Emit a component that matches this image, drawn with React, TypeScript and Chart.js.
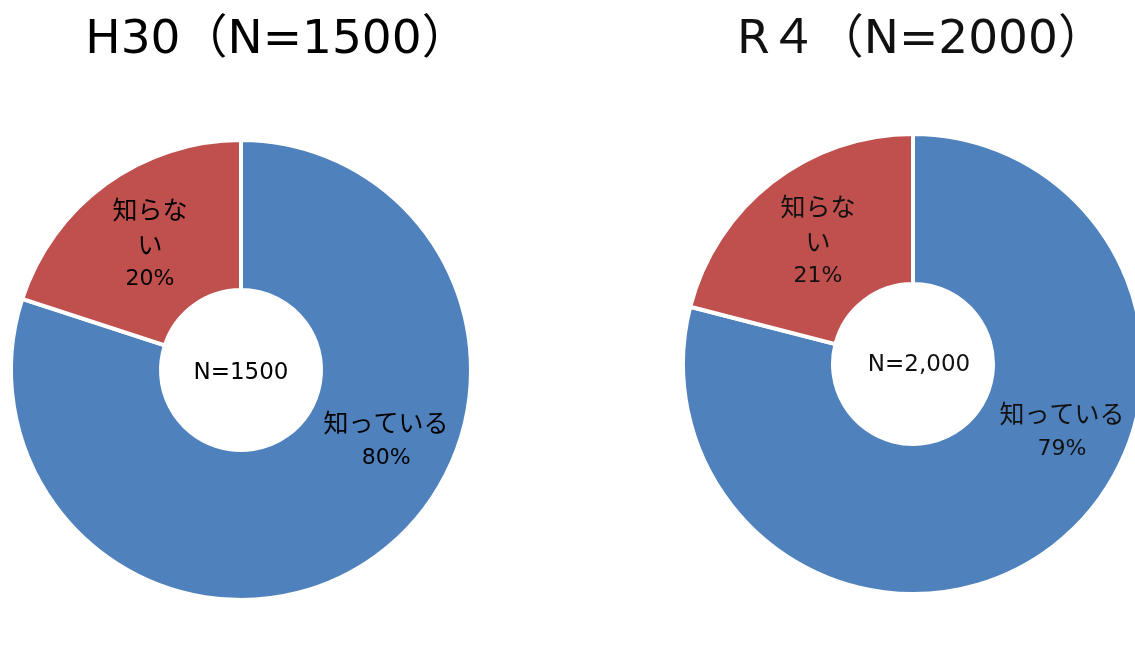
import { useEffect, useRef } from "react";
import { Chart, registerables } from "chart.js";

Chart.register(...registerables);

// Survey answers: "do you know it?"
const CATEGORIES = ["知っている", "知らない"];
const H30_VALUES = [80, 20];
const R4_VALUES = [79, 21];
const H30_TITLE = "H30（N=1500）";
const R4_TITLE = "R４（N=2000）";
const H30_CENTER_LABEL = "N=1500";
const R4_CENTER_LABEL = "N=2,000";
const SLICE_COLORS = ["#4F81BD", "#C0504D"];

// Ring geometry (the white border eats half its width on each edge)
const BORDER = 4;
const OUTER_R = 228 + BORDER / 2;
const HOLE_R = 82 - BORDER / 2;

// Label layout per slice
const LABEL_MAX_WIDTH = [140, 80];
const LABEL_SHIFT: [number, number][] = [
  [54, -55],
  [0, 0],
];
const LINE_GAP = 35;
const LATIN = "'DejaVu Sans', 'Noto Sans CJK JP', sans-serif";
const CJK = "'Noto Sans CJK JP', 'DejaVu Sans', sans-serif";

function wrapText(ctx: CanvasRenderingContext2D, text: string, maxWidth: number): string[] {
  const lines: string[] = [];
  let current = "";
  for (const ch of Array.from(text)) {
    const next = current + ch;
    if (current && ctx.measureText(next).width > maxWidth) {
      lines.push(current);
      current = ch;
    } else {
      current = next;
    }
  }
  if (current) lines.push(current);
  return lines;
}

type PanelProps = {
  title: string;
  centerLabel: string;
  values: number[];
  left: number;
  width: number;
  padding: { left: number; right: number; top: number; bottom: number };
  titleX: number;
  centerShift: [number, number];
  textColor: string;
};

function DoughnutPanel(props: PanelProps) {
  const ref = useRef<HTMLCanvasElement | null>(null);

  useEffect(() => {
    const canvas = ref.current;
    if (!canvas) return;
    const { title, centerLabel, values, titleX, centerShift, textColor } = props;

    const textPlugin = {
      id: "panelText",
      afterDatasetsDraw(chart: Chart) {
        const ctx = chart.ctx;
        const meta = chart.getDatasetMeta(0);
        const data = chart.data.datasets[0].data as number[];
        const total = data.reduce((a, b) => a + b, 0);
        ctx.save();
        ctx.fillStyle = textColor;
        ctx.textAlign = "center";

        ctx.font = `47px ${LATIN}`;
        ctx.textBaseline = "alphabetic";
        ctx.fillText(title, titleX, 53);

        const first = meta.data[0] as any;
        const c = first.getProps(["x", "y"], true);
        ctx.textBaseline = "middle";
        ctx.font = `23px ${LATIN}`;
        ctx.fillText(centerLabel, c.x + centerShift[0], c.y + centerShift[1]);

        meta.data.forEach((el: any, i: number) => {
          const p = el.getProps(
            ["x", "y", "startAngle", "endAngle", "innerRadius", "outerRadius"],
            true
          );
          const mid = (p.startAngle + p.endAngle) / 2;
          const r = (p.innerRadius + p.outerRadius) / 2;
          const cx = p.x + Math.cos(mid) * r + LABEL_SHIFT[i][0];
          const cy = p.y + Math.sin(mid) * r + LABEL_SHIFT[i][1];
          const catFont = `25px ${CJK}`;
          const pctFont = `22px ${LATIN}`;
          ctx.font = catFont;
          const label = String(chart.data.labels?.[i] ?? "");
          const lines = wrapText(ctx, label, LABEL_MAX_WIDTH[i]).map((t) => ({ t, font: catFont }));
          lines.push({ t: `${Math.round((data[i] / total) * 100)}%`, font: pctFont });
          const y0 = cy - ((lines.length - 1) * LINE_GAP) / 2;
          lines.forEach((ln, k) => {
            ctx.font = ln.font;
            ctx.fillText(ln.t, cx, y0 + k * LINE_GAP);
          });
        });
        ctx.restore();
      },
    };

    const chart = new Chart(canvas, {
      type: "doughnut",
      data: {
        labels: CATEGORIES,
        datasets: [
          {
            data: values,
            backgroundColor: SLICE_COLORS,
            borderColor: "#ffffff",
            borderWidth: BORDER,
          },
        ],
      },
      options: {
        responsive: false,
        animation: false,
        radius: OUTER_R,
        cutout: `${(HOLE_R / OUTER_R) * 100}%`,
        rotation: 0,
        layout: { padding: props.padding },
        plugins: {
          legend: { display: false },
          tooltip: { enabled: false },
          title: { display: false },
        },
      },
      plugins: [textPlugin],
    });
    return () => chart.destroy();
  }, []);

  return (
    <canvas
      ref={ref}
      width={props.width}
      height={664}
      style={{ position: "absolute", left: props.left, top: 0, width: props.width, height: 664 }}
    />
  );
}

export default function App() {
  return (
    <div
      style={{
        position: "fixed",
        left: 0,
        top: 0,
        width: 1135,
        height: 664,
        overflow: "hidden",
        background: "#ffffff",
      }}
    >
      <DoughnutPanel
        title={H30_TITLE}
        centerLabel={H30_CENTER_LABEL}
        values={H30_VALUES}
        left={0}
        width={567}
        padding={{ left: 0, right: 85, top: 76, bottom: 0 }}
        titleX={277}
        centerShift={[0, 3]}
        textColor="#000000"
      />
      <DoughnutPanel
        title={R4_TITLE}
        centerLabel={R4_CENTER_LABEL}
        values={R4_VALUES}
        left={567}
        width={568}
        padding={{ left: 124, right: 0, top: 64, bottom: 0 }}
        titleX={354}
        centerShift={[6, 1]}
        textColor="#111111"
      />
    </div>
  );
}
